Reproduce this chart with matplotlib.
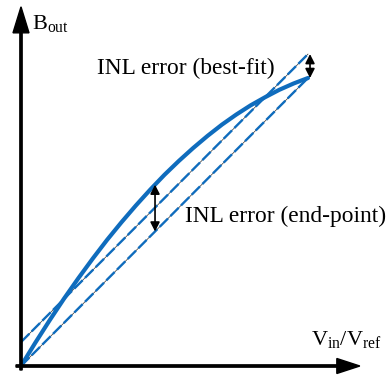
import numpy as np
import matplotlib
matplotlib.use("Agg")
import matplotlib.pyplot as plt

plt.rcParams['font.family'] = ['Liberation Serif', 'DejaVu Serif']
plt.rcParams['mathtext.fontset'] = 'custom'
plt.rcParams['mathtext.rm'] = 'Liberation Serif'
plt.rcParams['mathtext.it'] = 'Liberation Serif:italic'

AZUL = '#0f6cbd'

# transfer curve (normalised input / output)
vin = [0.0, 0.05, 0.10, 0.15, 0.20, 0.25, 0.30, 0.35, 0.40, 0.45, 0.50,
       0.55, 0.60, 0.65, 0.70, 0.75, 0.80, 0.85, 0.90, 0.95, 1.0]
bout = [0.0, 0.081, 0.159, 0.234, 0.305, 0.373, 0.438, 0.499, 0.557, 0.612, 0.664,
        0.712, 0.757, 0.799, 0.838, 0.873, 0.905, 0.933, 0.959, 0.981, 1.0]

# straight reference lines
linea_x = [0.0, 1.0]
endpoint_y = [0.0, 1.0]
bestfit_y = [0.083, 1.083]

mark_x = 0.467   # where the end-point error is marked

fig = plt.figure(figsize=(3.91, 3.76), dpi=100)
ax = fig.add_axes([0, 0, 1, 1])
ax.set_xlim(-21/287, 370/287)
ax.set_ylim(-10/288, 366/288)
ax.axis('off')

# axes with arrows
ax.arrow(0, -4/288, 0, 1.261, width=2.3/287, head_width=16/287, head_length=26/288,
         length_includes_head=True, color='black', zorder=5)
ax.arrow(-5/287, 0, 1.198, 0, width=2.3/288, head_width=15/288, head_length=23/287,
         length_includes_head=True, color='black', zorder=5)

# dashed straight lines (thin dark line under blue dashes)
for yy in (endpoint_y, bestfit_y):
    ax.plot(linea_x, yy, color='#303030', lw=0.5, zorder=2)
    ax.plot(linea_x, yy, color=AZUL, lw=1.7, dashes=(5, 1.4), zorder=3)

ax.plot(vin, bout, color=AZUL, lw=3.0, solid_capstyle='round', zorder=4)

# error markers
flecha = dict(arrowstyle='<|-|>,head_length=0.55,head_width=0.28', color='black',
              lw=1.2, shrinkA=0, shrinkB=0)
y_curva = np.interp(mark_x, vin, bout)
y_end = np.interp(mark_x, linea_x, endpoint_y)
ax.annotate('', xy=(mark_x, y_curva), xytext=(mark_x, y_end), arrowprops=flecha, zorder=6)
ax.annotate('', xy=(linea_x[1] + 0.007, bestfit_y[1]), xytext=(linea_x[1] + 0.007, bout[-1]),
            arrowprops=flecha, zorder=6)

ax.text(0.265, 1.014, 'INL error (best-fit)', fontsize=16.8, ha='left', va='baseline')
ax.text(0.571, 0.5, 'INL error (end-point)', fontsize=16.8, ha='left', va='baseline')
ax.text(0.038, 1.170, r'$\mathrm{B_{out}}$', fontsize=16, ha='left', va='baseline')
ax.text(1.010, 0.073, r'$\mathrm{V_{in}/V_{ref}}$', fontsize=16, ha='left', va='baseline')

fig.savefig('out.png', dpi=100)
